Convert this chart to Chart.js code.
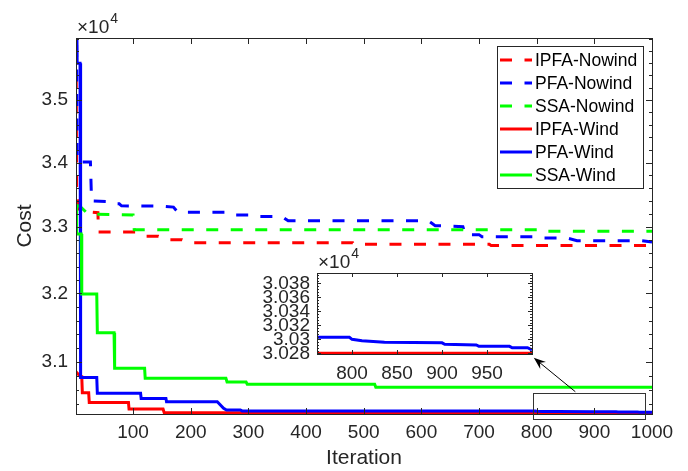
<!DOCTYPE html>
<html lang="en">
<head>
  <meta charset="UTF-8">
  <title>Cost vs Iteration</title>
  <script src="https://cdn.jsdelivr.net/npm/chart.js"></script>
  <style>
    body { margin: 0; background: #fff; }
    #wrap { position: relative; width: 688px; height: 471px; }
    #wrap canvas { position: absolute; left: 0; top: 0; }
  </style>
</head>
<body>
<div id="wrap">
  <canvas id="mainChart" width="688" height="471"></canvas>
  <canvas id="insetChart" width="688" height="471"></canvas>
</div>
<script>
  // step corners of each convergence curve (iteration, cost)
  const ipfaNowindIter = [1, 2, 5, 14, 39, 40, 106, 121, 144, 159, 185, 196, 481, 483, 718, 721, 1000];
  const ipfaNowindCost = [36600, 33600, 33280, 33240, 33220, 32925, 32925, 32860, 32860, 32805, 32805, 32760, 32760, 32737, 32737, 32717, 32717];

  const pfaNowindIter = [1, 3, 26, 28, 62, 68, 76, 80, 150, 170, 178, 260, 268, 300, 305, 358, 369, 612, 624, 672, 676, 700, 705, 800, 805, 852, 870, 982, 1000];
  const pfaNowindCost = [38000, 34010, 34010, 33400, 33390, 33356, 33356, 33325, 33321, 33306, 33225, 33225, 33183, 33183, 33162, 33162, 33095, 33095, 33021, 33006, 32884, 32884, 32853, 32853, 32833, 32833, 32792, 32792, 32773];

  const ssaNowindIter = [1, 10, 22, 100, 102, 816, 818, 1000];
  const ssaNowindCost = [33340, 33300, 33200, 33185, 32960, 32960, 32935, 32935];

  const ipfaWindIter = [1, 9, 11, 12, 23, 24, 92, 93, 152, 154, 1000];
  const ipfaWindCost = [30860, 30790, 30790, 30562, 30562, 30424, 30424, 30332, 30332, 30280, 30280];

  const pfaWindIter = [1, 3, 8, 9, 37, 38, 113, 114, 157, 158, 246, 257, 262, 286, 289, 797, 800, 811, 836, 900, 903, 938, 941, 975, 978, 995, 1000];
  const pfaWindCost = [38000, 35600, 35600, 30778, 30778, 30554, 30554, 30480, 30480, 30435, 30435, 30342, 30318, 30318, 30305, 30303, 30300, 30298, 30296, 30295, 30293, 30292, 30290, 30290, 30288, 30288, 30285];

  const ssaWindIter = [1, 2, 10, 11, 37, 38, 67, 68, 120, 121, 261, 263, 296, 298, 519, 521, 1000];
  const ssaWindCost = [33340, 32894, 32894, 31992, 31992, 31424, 31424, 30909, 30909, 30767, 30767, 30714, 30714, 30683, 30683, 30640, 30640];

  const seriesLabels = ['IPFA-Nowind', 'PFA-Nowind', 'SSA-Nowind', 'IPFA-Wind', 'PFA-Wind', 'SSA-Wind'];

  const xTicks = [100, 200, 300, 400, 500, 600, 700, 800, 900, 1000];
  const yTicks = [31000, 32000, 33000, 34000, 35000];
  const insetXTicks = [800, 850, 900, 950];
  const insetYTicks = [30280, 30300, 30320, 30340, 30360, 30380];

  // zoom box and arrow (data coordinates of the main axes)
  const zoomBoxX = [793, 987];
  const zoomBoxY = [30196, 30562];
  const arrowFrom = [867, 30576];
  const arrowTo = [795, 31060];

  const axisColor = '#262626';
  const FONT = "'Liberation Sans', Arial, sans-serif";
  Chart.defaults.font.family = FONT;
  Chart.defaults.color = axisColor;

  function pts(iter, cost) {
    return iter.map((x, i) => ({ x: x, y: cost[i] }));
  }
  function fmt(v) {
    return String(Number((v / 1e4).toFixed(4)));
  }
  function minorList(lo, hi, step, majors) {
    const out = [];
    for (let v = lo; v <= hi; v += step) if (!majors.includes(v)) out.push(v);
    return out;
  }

  const colors = ['#ff0000', '#0000ff', '#00ff00', '#ff0000', '#0000ff', '#00ff00'];
  const dashed = [true, true, true, false, false, false];
  const allData = [
    pts(ipfaNowindIter, ipfaNowindCost),
    pts(pfaNowindIter, pfaNowindCost),
    pts(ssaNowindIter, ssaNowindCost),
    pts(ipfaWindIter, ipfaWindCost),
    pts(pfaWindIter, pfaWindCost),
    pts(ssaWindIter, ssaWindCost)
  ];

  // box, inward ticks and the x10^4 multiplier, like a matlab axes
  const framePlugin = {
    id: 'frame',
    beforeDatasetsDraw(chart, args, opts) {
      const a = chart.chartArea, ctx = chart.ctx;
      ctx.save();
      ctx.fillStyle = '#fff';
      ctx.fillRect(a.left, a.top, a.right - a.left, a.bottom - a.top);
      ctx.restore();
    },
    afterDatasetsDraw(chart, args, opts) {
      const ctx = chart.ctx, a = chart.chartArea;
      const x = chart.scales.x, y = chart.scales.y;
      ctx.save();
      ctx.strokeStyle = axisColor;
      ctx.lineWidth = 1;
      ctx.beginPath();
      opts.xMajor.forEach(v => {
        const px = Math.round(x.getPixelForValue(v)) + 0.5;
        ctx.moveTo(px, a.bottom); ctx.lineTo(px, a.bottom - opts.majorLen);
        ctx.moveTo(px, a.top); ctx.lineTo(px, a.top + opts.majorLen);
      });
      opts.yMajor.forEach(v => {
        const py = Math.round(y.getPixelForValue(v)) + 0.5;
        ctx.moveTo(a.left, py); ctx.lineTo(a.left + opts.majorLen, py);
        ctx.moveTo(a.right, py); ctx.lineTo(a.right - opts.majorLen, py);
      });
      opts.yMinor.forEach(v => {
        const py = Math.round(y.getPixelForValue(v)) + 0.5;
        ctx.moveTo(a.left, py); ctx.lineTo(a.left + opts.minorLen, py);
        ctx.moveTo(a.right, py); ctx.lineTo(a.right - opts.minorLen, py);
      });
      ctx.stroke();
      ctx.strokeRect(Math.round(a.left) + 0.5, Math.round(a.top) + 0.5,
        Math.round(a.right - a.left), Math.round(a.bottom - a.top));
      // multiplier
      ctx.fillStyle = axisColor;
      ctx.textBaseline = 'alphabetic';
      ctx.textAlign = 'left';
      ctx.font = '19px ' + FONT;
      ctx.fillText('\u00d710', a.left + 1, a.top - 5);
      const w = ctx.measureText('\u00d710').width;
      ctx.font = '14px ' + FONT;
      ctx.fillText('4', a.left + 2 + w, a.top - 15);
      ctx.restore();
    }
  };

  const legendPlugin = {
    id: 'boxLegend',
    afterDraw(chart) {
      const ctx = chart.ctx, a = chart.chartArea;
      const right = a.right - 9, top = a.top + 8, w = 146, h = 142;
      const left = right - w;
      ctx.save();
      ctx.fillStyle = '#fff';
      ctx.fillRect(left, top, w, h);
      ctx.strokeStyle = axisColor;
      ctx.lineWidth = 1;
      ctx.strokeRect(Math.round(left) + 0.5, Math.round(top) + 0.5, w, h);
      chart.data.datasets.forEach((ds, i) => {
        const cy = top + 14 + i * 23;
        ctx.strokeStyle = ds.borderColor;
        ctx.lineWidth = 3;
        ctx.setLineDash(ds.borderDash || []);
        ctx.beginPath();
        ctx.moveTo(left + 3, cy);
        ctx.lineTo(left + 35, cy);
        ctx.stroke();
        ctx.setLineDash([]);
        ctx.fillStyle = '#000';
        ctx.font = '17.5px ' + FONT;
        ctx.textBaseline = 'middle';
        ctx.fillText(ds.label, left + 38, cy + 1);
      });
      ctx.restore();
    }
  };

  const zoomMarkPlugin = {
    id: 'zoomMark',
    afterDraw(chart) {
      const ctx = chart.ctx, x = chart.scales.x, y = chart.scales.y;
      ctx.save();
      const x0 = Math.round(x.getPixelForValue(zoomBoxX[0])) + 0.5;
      const x1 = Math.round(x.getPixelForValue(zoomBoxX[1])) + 0.5;
      const y0 = Math.round(y.getPixelForValue(zoomBoxY[1])) + 0.5;
      const y1 = Math.round(y.getPixelForValue(zoomBoxY[0])) + 0.5;
      ctx.strokeStyle = '#333';
      ctx.lineWidth = 1;
      ctx.strokeRect(x0, y0, x1 - x0, y1 - y0);
      const fx = x.getPixelForValue(arrowFrom[0]), fy = y.getPixelForValue(arrowFrom[1]);
      const tx = x.getPixelForValue(arrowTo[0]), ty = y.getPixelForValue(arrowTo[1]);
      const ang = Math.atan2(ty - fy, tx - fx);
      ctx.strokeStyle = '#000';
      ctx.beginPath();
      ctx.moveTo(fx, fy);
      ctx.lineTo(tx - 8 * Math.cos(ang), ty - 8 * Math.sin(ang));
      ctx.stroke();
      ctx.fillStyle = '#000';
      ctx.beginPath();
      ctx.moveTo(tx, ty);
      ctx.lineTo(tx - 12 * Math.cos(ang) + 4.5 * Math.sin(ang), ty - 12 * Math.sin(ang) - 4.5 * Math.cos(ang));
      ctx.lineTo(tx - 8 * Math.cos(ang), ty - 8 * Math.sin(ang));
      ctx.lineTo(tx - 12 * Math.cos(ang) - 4.5 * Math.sin(ang), ty - 12 * Math.sin(ang) + 4.5 * Math.cos(ang));
      ctx.closePath();
      ctx.fill();
      ctx.restore();
    }
  };

  function makeDataset(i) {
    return {
      label: seriesLabels[i],
      data: allData[i],
      borderColor: colors[i],
      backgroundColor: colors[i],
      borderWidth: 3,
      borderDash: dashed[i] ? [12, 12.5] : [],
      pointRadius: 0,
      tension: 0,
      fill: false,
      order: 6 - i
    };
  }

  new Chart(document.getElementById('mainChart'), {
    type: 'line',
    data: { datasets: [0, 1, 2, 3, 4, 5].map(makeDataset) },
    options: {
      responsive: false,
      animation: false,
      layout: { padding: { top: 38, right: 36, left: 0, bottom: 0 } },
      plugins: {
        legend: { display: false },
        tooltip: { enabled: false },
        frame: {
          xMajor: xTicks, yMajor: yTicks,
          yMinor: minorList(30400, 36000, 200, yTicks),
          majorLen: 6, minorLen: 3
        }
      },
      scales: {
        x: {
          type: 'linear', min: 1, max: 1000,
          afterBuildTicks: ax => { ax.ticks = xTicks.map(v => ({ value: v })); },
          afterFit: ax => { ax.height = 57; },
          grid: { display: false, drawTicks: false },
          border: { display: false },
          ticks: { font: { size: 19 }, color: axisColor, padding: 7, maxRotation: 0, autoSkip: false, callback: v => String(v) },
          title: { display: true, text: 'Iteration', font: { size: 21 }, color: axisColor, padding: { top: 0, bottom: 0 } }
        },
        y: {
          type: 'logarithmic', min: 30262, max: 36020,
          afterBuildTicks: ax => { ax.ticks = yTicks.map(v => ({ value: v })); },
          afterFit: ax => { ax.width = 76; },
          grid: { display: false, drawTicks: false },
          border: { display: false },
          ticks: { font: { size: 19 }, color: axisColor, padding: 8, autoSkip: false, callback: v => fmt(v) },
          title: { display: true, text: 'Cost', font: { size: 21 }, color: axisColor, padding: { top: 13, bottom: 0 } }
        }
      }
    },
    plugins: [framePlugin, zoomMarkPlugin, legendPlugin]
  });

  // inset: zoom on the last iterations of the wind runs
  new Chart(document.getElementById('insetChart'), {
    type: 'line',
    data: { datasets: [3, 4].map(makeDataset) },
    options: {
      responsive: false,
      animation: false,
      layout: { padding: { top: 273, right: 156, left: 0, bottom: 0 } },
      plugins: {
        legend: { display: false },
        tooltip: { enabled: false },
        frame: {
          xMajor: insetXTicks, yMajor: insetYTicks,
          yMinor: minorList(30280, 30392, 4, insetYTicks),
          majorLen: 4, minorLen: 2
        }
      },
      scales: {
        x: {
          type: 'linear', min: 761, max: 1000,
          afterBuildTicks: ax => { ax.ticks = insetXTicks.map(v => ({ value: v })); },
          afterFit: ax => { ax.height = 117; },
          grid: { display: false, drawTicks: false },
          border: { display: false },
          ticks: { font: { size: 19 }, color: axisColor, padding: 8, maxRotation: 0, autoSkip: false, callback: v => String(v) }
        },
        y: {
          type: 'linear', min: 30279, max: 30395,
          afterBuildTicks: ax => { ax.ticks = insetYTicks.map(v => ({ value: v })); },
          afterFit: ax => { ax.width = 317; },
          grid: { display: false, drawTicks: false },
          border: { display: false },
          ticks: { font: { size: 19 }, color: axisColor, padding: 7, autoSkip: false, callback: v => fmt(v) }
        }
      }
    },
    plugins: [framePlugin]
  });
</script>
</body>
</html>
